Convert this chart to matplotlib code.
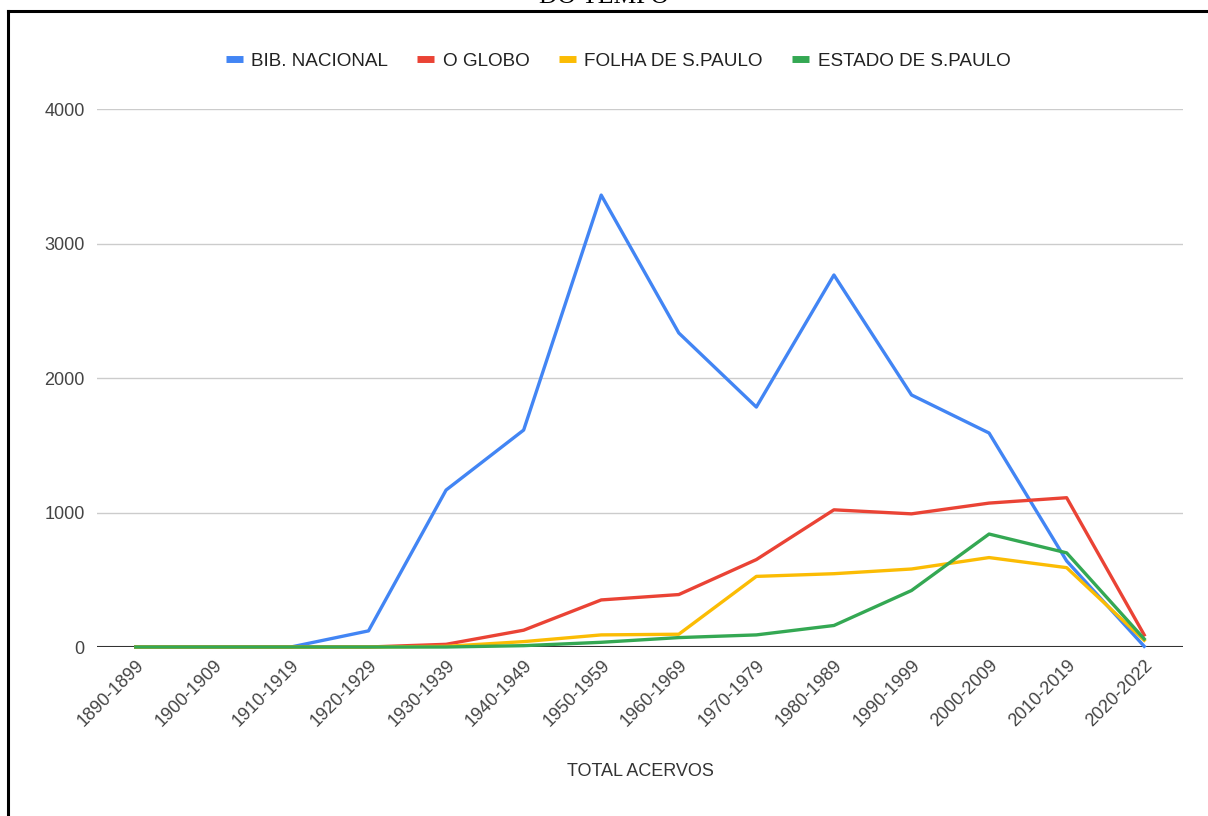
import matplotlib.pyplot as plt
from matplotlib.lines import Line2D

plt.rcParams['font.family'] = ['Liberation Sans', 'DejaVu Sans']

decadas = ['1890-1899', '1900-1909', '1910-1919', '1920-1929', '1930-1939',
           '1940-1949', '1950-1959', '1960-1969', '1970-1979', '1980-1989',
           '1990-1999', '2000-2009', '2010-2019', '2020-2022']

bib_nacional = [0, 0, 0, 120, 1167, 1613, 3360, 2335, 1784, 2766, 1874, 1591, 640, 5]
o_globo = [0, 0, 0, 0, 20, 125, 350, 390, 650, 1020, 990, 1070, 1110, 90]
folha = [0, 0, 0, 0, 5, 40, 90, 95, 525, 545, 580, 665, 590, 50]
estado = [0, 0, 0, 0, 0, 10, 35, 70, 90, 160, 420, 840, 700, 60]

series = [('BIB. NACIONAL', bib_nacional, '#4285F4'),
          ('O GLOBO', o_globo, '#EA4335'),
          ('FOLHA DE S.PAULO', folha, '#FBBC04'),
          ('ESTADO DE S.PAULO', estado, '#34A853')]

fig = plt.figure(figsize=(12.08, 8.16), dpi=100)
ax = fig.add_axes([0.0803, 0.2071, 0.8990, 0.6593])

x = list(range(len(decadas)))
for nome, vals, cor in series:
    ax.plot(x, vals, color=cor, lw=2.4, label=nome, clip_on=False, zorder=3)

ax.set_xlim(-0.5, len(decadas) - 0.5)
ax.set_ylim(0, 4000)
ax.set_yticks([0, 1000, 2000, 3000, 4000])
ax.set_xticks(x)
ax.set_xticklabels(decadas, rotation=45, ha='right', rotation_mode='anchor')
ax.tick_params(axis='both', length=0, labelsize=13, labelcolor='#444444')
ax.tick_params(axis='x', pad=7)
ax.tick_params(axis='y', pad=9)
ax.grid(axis='y', color='#cccccc', lw=1)
ax.set_axisbelow(True)
for s in ax.spines.values():
    s.set_visible(False)
ax.axhline(0, color='#333333', lw=1.5, zorder=2)

ax.set_xlabel('TOTAL ACERVOS', fontsize=13, color='#333333', labelpad=24)

handles = [Line2D([0], [0], color=c, lw=5, solid_capstyle='butt')
           for _, _, c in series]
ax.legend(handles, [n for n, _, _ in series], loc='center',
          bbox_to_anchor=((618 - 97) / 1086, 1.0 + (109 - 61) / 538), ncol=4,
          frameon=False, fontsize=13.6, handlelength=0.9, handletextpad=0.45,
          columnspacing=1.55, labelcolor='#222222')

# titulo cortado no topo e moldura
fig.text(0.5, 1 - 3 / 816, 'DO TEMPO', ha='center', va='baseline',
         family='Liberation Serif', fontsize=18.5)
fig.add_artist(Line2D([8 / 1208, 1], [1 - 11 / 816, 1 - 11 / 816],
                      color='black', lw=2.2, transform=fig.transFigure))
fig.add_artist(Line2D([8 / 1208, 8 / 1208], [0, 1 - 11 / 816],
                      color='black', lw=2.2, transform=fig.transFigure))

fig.savefig('out.png', dpi=100)
